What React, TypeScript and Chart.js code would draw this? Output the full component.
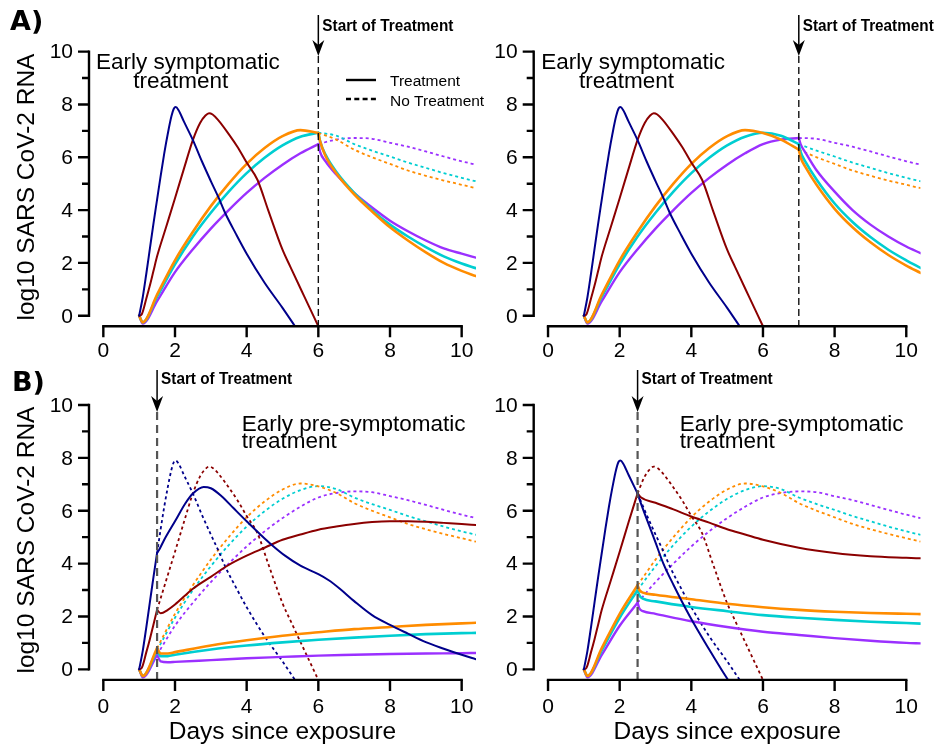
import React, { useEffect, useRef } from "react";
import { Chart, registerables } from "chart.js";

Chart.register(...registerables);

const W = 938;
const H = 748;

// ---- axis ticks -------------------------------------------------------
const yTickValues = [0, 1, 2, 3, 4, 5, 6, 7, 8, 9, 10];
const yTickLabels = ["0", "", "2", "", "4", "", "6", "", "8", "", "10"];
const xTickValues = [0, 2, 4, 6, 8, 10];
const xTickLabels = ["0", "2", "4", "6", "8", "10"];

// ---- untreated viral load (log10 RNA) per patient profile -----------------
const navyDays = [1.0, 1.1, 1.2, 1.3, 1.4, 1.5, 1.6, 1.7, 1.8, 1.9, 1.97, 2.02, 2.1, 2.25, 2.5, 2.75, 3.0, 3.22, 3.4, 3.7, 4.0, 4.5, 5.0, 5.35];
const navyLoad = [0, 0.7, 1.6, 2.55, 3.5, 4.4, 5.3, 6.15, 6.9, 7.55, 7.85, 7.9, 7.78, 7.35, 6.65, 5.85, 5.1, 4.46, 3.89, 3.1, 2.35, 1.25, 0.3, -0.4];

const redDays = [1.0, 1.07, 1.2, 1.3, 1.4, 1.5, 1.75, 2.0, 2.25, 2.5, 2.7, 2.85, 2.95, 3.05, 3.2, 3.5, 3.75, 4.0, 4.3, 4.6, 5.0, 5.22, 5.6, 6.0];
const redLoad = [0, 0.05, 0.65, 1.15, 1.7, 2.25, 3.35, 4.45, 5.57, 6.66, 7.3, 7.58, 7.67, 7.62, 7.42, 6.88, 6.38, 5.8, 5.15, 4.0, 2.5, 1.85, 0.75, -0.4];

const slowDays = [1.0, 1.1, 1.5, 2.0, 2.5, 3.0, 3.5, 4.0, 4.5, 5.0, 5.5, 6.0, 6.5, 7.0, 7.5, 8.0, 8.5, 9.0, 9.5, 10.0, 10.4];
const orangeLoad = [0, -0.25, 0.8, 2.1, 3.18, 4.15, 5.0, 5.75, 6.35, 6.8, 7.03, 6.92, 6.67, 6.29, 6.0, 5.75, 5.5, 5.3, 5.12, 4.96, 4.83];
const cyanLoad = [0, -0.25, 0.72, 1.95, 3.0, 3.9, 4.7, 5.4, 5.98, 6.45, 6.78, 6.93, 6.82, 6.5, 6.25, 6.03, 5.8, 5.6, 5.4, 5.22, 5.09];
const purpleLoad = [0, -0.3, 0.55, 1.65, 2.52, 3.3, 4.0, 4.65, 5.22, 5.72, 6.15, 6.5, 6.67, 6.73, 6.7, 6.55, 6.4, 6.22, 6.03, 5.85, 5.72];

// ---- treated viral load, from the start of treatment onward -------------------
// A) early symptomatic, treatment on day 6
const sym6Days = [6.0, 6.05, 6.2, 6.5, 7.0, 7.5, 8.0, 8.5, 9.0, 9.5, 10.0, 10.4];
const sym6Orange = [6.92, 6.6, 6.05, 5.4, 4.6, 3.95, 3.35, 2.85, 2.4, 2.0, 1.7, 1.5];
const sym6Cyan = [6.93, 6.6, 6.1, 5.45, 4.65, 4.0, 3.45, 3.0, 2.6, 2.25, 1.98, 1.8];
const sym6Purple = [6.5, 6.2, 5.85, 5.35, 4.65, 4.1, 3.6, 3.2, 2.85, 2.55, 2.35, 2.2];

// A) early symptomatic, treatment on day 7
const sym7Days = [7.0, 7.05, 7.2, 7.5, 8.0, 8.5, 9.0, 9.5, 10.0, 10.4];
const sym7Orange = [6.29, 6.0, 5.6, 4.95, 4.05, 3.35, 2.78, 2.3, 1.9, 1.62];
const sym7Cyan = [6.5, 6.2, 5.8, 5.15, 4.25, 3.55, 2.98, 2.5, 2.1, 1.81];
const sym7Purple = [6.73, 6.5, 6.15, 5.5, 4.7, 4.0, 3.45, 3.0, 2.62, 2.37];

// B) early pre-symptomatic, treatment on day 1.5
const pre15NavyDays = [1.5, 1.55, 1.7, 2.0, 2.3, 2.5, 2.8, 3.0, 3.3, 3.63, 4.0, 4.5, 4.75, 5.07, 5.5, 6.0, 6.28, 6.6, 7.0, 7.5, 8.0, 8.5, 9.0, 9.5, 10.0, 10.4];
const pre15Navy = [4.4, 4.5, 4.9, 5.6, 6.3, 6.65, 6.9, 6.85, 6.55, 6.1, 5.6, 4.95, 4.65, 4.3, 3.92, 3.6, 3.38, 3.05, 2.58, 2.05, 1.68, 1.35, 1.03, 0.78, 0.55, 0.38];
const pre15RedDays = [1.5, 1.6, 1.8, 2.0, 2.5, 3.0, 3.5, 4.0, 4.5, 5.0, 5.5, 6.0, 6.5, 7.0, 7.5, 8.0, 8.5, 9.0, 9.5, 10.0, 10.4];
const pre15Red = [2.25, 2.12, 2.25, 2.45, 3.05, 3.5, 3.95, 4.3, 4.6, 4.9, 5.1, 5.28, 5.4, 5.5, 5.57, 5.6, 5.6, 5.58, 5.54, 5.5, 5.46];
const pre15SlowDays = [1.5, 1.6, 1.8, 2.0, 3.0, 4.0, 5.0, 6.0, 7.0, 8.0, 9.0, 10.0, 10.4];
const pre15Orange = [0.8, 0.6, 0.6, 0.65, 0.9, 1.1, 1.27, 1.4, 1.52, 1.6, 1.68, 1.74, 1.76];
const pre15Cyan = [0.72, 0.5, 0.5, 0.55, 0.75, 0.9, 1.02, 1.12, 1.2, 1.27, 1.33, 1.37, 1.38];
const pre15Purple = [0.55, 0.3, 0.27, 0.28, 0.35, 0.42, 0.47, 0.52, 0.55, 0.58, 0.6, 0.61, 0.62];

// B) early pre-symptomatic, treatment on day 2.5
const pre25NavyDays = [2.5, 2.6, 2.75, 3.0, 3.22, 3.5, 3.96, 4.5, 5.0, 5.05];
const pre25Navy = [6.65, 6.25, 5.7, 4.8, 4.0, 3.2, 2.0, 0.75, -0.35, -0.45];
const pre25RedDays = [2.5, 2.6, 3.0, 3.5, 4.0, 4.5, 5.0, 5.5, 6.0, 7.0, 8.0, 9.0, 10.0, 10.4];
const pre25Red = [6.66, 6.5, 6.3, 6.05, 5.78, 5.55, 5.3, 5.1, 4.9, 4.6, 4.4, 4.28, 4.22, 4.2];
const pre25SlowDays = [2.5, 2.55, 2.65, 3.0, 4.0, 5.0, 6.0, 7.0, 8.0, 9.0, 10.0, 10.4];
const pre25Orange = [3.18, 3.0, 2.9, 2.82, 2.65, 2.48, 2.35, 2.25, 2.18, 2.13, 2.1, 2.09];
const pre25Cyan = [3.0, 2.8, 2.67, 2.57, 2.36, 2.2, 2.05, 1.95, 1.87, 1.8, 1.75, 1.73];
const pre25Purple = [2.52, 2.3, 2.2, 2.1, 1.82, 1.6, 1.42, 1.3, 1.18, 1.08, 1.0, 0.98];

// ---- styling -------------------------------------------------------------
type Key = "navy" | "red" | "orange" | "cyan" | "purple";
const KEYS: Key[] = ["navy", "red", "orange", "cyan", "purple"];
const COLORS: Record<Key, string> = {
  navy: "#00008B",
  red: "#8B0000",
  orange: "#FF8C00",
  cyan: "#00CED1",
  purple: "#9B30FF",
};
const WIDTHS: Record<Key, number> = { navy: 2, red: 2, orange: 2.6, cyan: 2.6, purple: 2.4 };
const FONT = "'Liberation Sans', Arial, Helvetica, sans-serif";

type Series = { days: number[]; load: number[] };
const baseline: Record<Key, Series> = {
  navy: { days: navyDays, load: navyLoad },
  red: { days: redDays, load: redLoad },
  orange: { days: slowDays, load: orangeLoad },
  cyan: { days: slowDays, load: cyanLoad },
  purple: { days: slowDays, load: purpleLoad },
};

type PanelSpec = {
  id: string;
  start: number;
  treated: Partial<Record<Key, Series>>;
  pad: { left: number; top: number; right: number; bottom: number };
  heading: { text: string; x: number; y: number }[];
  letter?: { text: string; x: number; y: number };
  legend: boolean;
  yTitle?: { x: number; y: number };
  xTitle: boolean;
  arrowTop: number;
  arrowTip: number;
  markerBaseline: number;
  lower: boolean;
  xLabelGap: number;
};

const panels: PanelSpec[] = [
  {
    id: "a-left",
    start: 6,
    treated: {
      orange: { days: sym6Days, load: sym6Orange },
      cyan: { days: sym6Days, load: sym6Cyan },
      purple: { days: sym6Days, load: sym6Purple },
    },
    pad: { left: 89, top: 41.1, right: 462, bottom: 421.7 },
    heading: [
      { text: "Early symptomatic", x: 96, y: 68.5 },
      { text: "treatment", x: 133.3, y: 87.5 },
    ],
    letter: { text: "A)", x: 10, y: 30 },
    legend: true,
    yTitle: { x: 33.5, y: 187 },
    xTitle: false,
    arrowTop: 15,
    arrowTip: 56,
    markerBaseline: 30.7,
    lower: false,
    xLabelGap: 24.5,
  },
  {
    id: "a-right",
    start: 7,
    treated: {
      orange: { days: sym7Days, load: sym7Orange },
      cyan: { days: sym7Days, load: sym7Cyan },
      purple: { days: sym7Days, load: sym7Purple },
    },
    pad: { left: 533.7, top: 41.1, right: 17.4, bottom: 421.7 },
    heading: [
      { text: "Early symptomatic", x: 541.3, y: 68.5 },
      { text: "treatment", x: 579, y: 87.5 },
    ],
    legend: false,
    xTitle: false,
    arrowTop: 15,
    arrowTip: 56,
    markerBaseline: 30.7,
    lower: false,
    xLabelGap: 24.5,
  },
  {
    id: "b-left",
    start: 1.5,
    treated: {
      navy: { days: pre15NavyDays, load: pre15Navy },
      red: { days: pre15RedDays, load: pre15Red },
      orange: { days: pre15SlowDays, load: pre15Orange },
      cyan: { days: pre15SlowDays, load: pre15Cyan },
      purple: { days: pre15SlowDays, load: pre15Purple },
    },
    pad: { left: 89, top: 394.4, right: 462, bottom: 68.1 },
    heading: [
      { text: "Early pre-symptomatic", x: 241.7, y: 431 },
      { text: "treatment", x: 241.7, y: 447.5 },
    ],
    letter: { text: "B)", x: 12, y: 391 },
    legend: false,
    yTitle: { x: 33.5, y: 540 },
    xTitle: true,
    arrowTop: 370,
    arrowTip: 412,
    markerBaseline: 384.3,
    lower: true,
    xLabelGap: 27,
  },
  {
    id: "b-right",
    start: 2.5,
    treated: {
      navy: { days: pre25NavyDays, load: pre25Navy },
      red: { days: pre25RedDays, load: pre25Red },
      orange: { days: pre25SlowDays, load: pre25Orange },
      cyan: { days: pre25SlowDays, load: pre25Cyan },
      purple: { days: pre25SlowDays, load: pre25Purple },
    },
    pad: { left: 533.7, top: 394.4, right: 17.4, bottom: 68.1 },
    heading: [
      { text: "Early pre-symptomatic", x: 679.7, y: 431 },
      { text: "treatment", x: 679.7, y: 447.5 },
    ],
    legend: false,
    xTitle: true,
    arrowTop: 370,
    arrowTip: 412,
    markerBaseline: 384.3,
    lower: true,
    xLabelGap: 27,
  },
];

const toPoints = (s: Series) => s.days.map((d, i) => ({ x: d, y: s.load[i] }));

function buildDatasets(p: PanelSpec) {
  const out: any[] = [];
  const solid = (key: Key, data: { x: number; y: number }[]) => ({
    data,
    borderColor: COLORS[key],
    borderWidth: WIDTHS[key],
    borderCapStyle: "round",
    borderJoinStyle: "round",
    pointRadius: 0,
    fill: false,
    order: 1,
  });
  const dotted = (key: Key, data: { x: number; y: number }[]) => ({
    data,
    borderColor: COLORS[key],
    borderWidth: 1.8,
    borderDash: [3, 3],
    borderCapStyle: "butt",
    pointRadius: 0,
    fill: false,
    order: 2,
  });
  for (const key of KEYS) {
    const base = toPoints(baseline[key]);
    const tr = p.treated[key];
    if (!tr) {
      out.push(solid(key, base));
      continue;
    }
    out.push(dotted(key, base.filter((q) => q.x >= p.start)));
    out.push(solid(key, base.filter((q) => q.x <= p.start)));
    out.push(solid(key, toPoints(tr)));
  }
  return out;
}

// Draws the detached base-graphics style axes, annotations and legend.
const panelInk = {
  id: "panelInk",
  afterDatasetsDraw(chart: any, _args: any, o: any) {
    const spec: PanelSpec = o.spec;
    const { ctx, chartArea: ca } = chart;
    const xs = chart.scales.x;
    const ys = chart.scales.y;
    ctx.save();
    ctx.setLineDash([]);
    ctx.fillStyle = "#000";
    ctx.strokeStyle = "#000";

    // treatment marker: dashed guide, arrow and label
    const tx = xs.getPixelForValue(spec.start);
    ctx.beginPath();
    ctx.setLineDash(spec.lower ? [8, 5] : [7, 4]);
    ctx.lineWidth = spec.lower ? 2.2 : 1.4;
    ctx.strokeStyle = spec.lower ? "#555" : "#111";
    ctx.moveTo(tx, spec.arrowTip);
    ctx.lineTo(tx, ca.bottom);
    ctx.stroke();
    ctx.setLineDash([]);
    ctx.strokeStyle = "#000";
    ctx.lineWidth = 1.5;
    ctx.beginPath();
    ctx.moveTo(tx, spec.arrowTop);
    ctx.lineTo(tx, spec.arrowTip - 6);
    ctx.stroke();
    ctx.beginPath();
    ctx.moveTo(tx, spec.arrowTip);
    ctx.lineTo(tx - 6, spec.arrowTip - 16);
    ctx.lineTo(tx, spec.arrowTip - 11);
    ctx.lineTo(tx + 6, spec.arrowTip - 16);
    ctx.closePath();
    ctx.fill();
    ctx.font = `bold 17px ${FONT}`;
    ctx.textAlign = "left";
    ctx.textBaseline = "alphabetic";
    ctx.fillText("Start of Treatment", tx + 4, spec.markerBaseline, 131);

    // axes
    ctx.lineWidth = 2.4;
    ctx.lineCap = "square";
    const ax = ca.left;
    const ay = ca.bottom;
    ctx.beginPath();
    ctx.moveTo(ax, ys.getPixelForValue(yTickValues[0]));
    ctx.lineTo(ax, ys.getPixelForValue(yTickValues[yTickValues.length - 1]));
    ctx.moveTo(xs.getPixelForValue(xTickValues[0]), ay);
    ctx.lineTo(xs.getPixelForValue(xTickValues[xTickValues.length - 1]), ay);
    ctx.stroke();
    ctx.lineCap = "butt";
    ctx.beginPath();
    yTickValues.forEach((v, i) => {
      const py = ys.getPixelForValue(v);
      const len = yTickLabels[i] ? 11 : 7;
      ctx.moveTo(ax, py);
      ctx.lineTo(ax - len, py);
    });
    xTickValues.forEach((v) => {
      const px = xs.getPixelForValue(v);
      ctx.moveTo(px, ay);
      ctx.lineTo(px, ay + 11);
    });
    ctx.stroke();

    ctx.font = `21px ${FONT}`;
    ctx.textAlign = "right";
    ctx.textBaseline = "middle";
    yTickValues.forEach((v, i) => {
      if (yTickLabels[i]) ctx.fillText(yTickLabels[i], ax - 16, ys.getPixelForValue(v) + 1);
    });
    ctx.textAlign = "center";
    xTickValues.forEach((v, i) => {
      ctx.fillText(xTickLabels[i], xs.getPixelForValue(v), ay + spec.xLabelGap);
    });

    // axis titles
    ctx.font = `24.5px ${FONT}`;
    ctx.textBaseline = "alphabetic";
    if (spec.xTitle) {
      ctx.textAlign = "center";
      ctx.fillText("Days since exposure", (ca.left + ca.right) / 2, 738.5);
    }
    if (spec.yTitle) {
      ctx.save();
      ctx.translate(spec.yTitle.x, spec.yTitle.y);
      ctx.rotate(-Math.PI / 2);
      ctx.textAlign = "center";
      ctx.fillText("log10 SARS CoV-2 RNA", 0, 0);
      ctx.restore();
    }

    // panel heading
    ctx.font = `22.5px ${FONT}`;
    ctx.textAlign = "left";
    spec.heading.forEach((h) => ctx.fillText(h.text, h.x, h.y));

    // panel letter
    if (spec.letter) {
      ctx.font = "bold 27px 'DejaVu Sans', sans-serif";
      ctx.fillText(spec.letter.text, spec.letter.x, spec.letter.y);
    }

    // line-type legend
    if (spec.legend) {
      ctx.lineWidth = 2.4;
      ctx.beginPath();
      ctx.moveTo(346, 80);
      ctx.lineTo(376, 80);
      ctx.stroke();
      ctx.setLineDash([5, 3.3]);
      ctx.beginPath();
      ctx.moveTo(346, 99);
      ctx.lineTo(376, 99);
      ctx.stroke();
      ctx.setLineDash([]);
      ctx.font = `15.5px ${FONT}`;
      ctx.fillText("Treatment", 390, 86);
      ctx.fillText("No Treatment", 390, 105.5);
    }
    ctx.restore();
  },
};

function Panel({ spec }: { spec: PanelSpec }) {
  const ref = useRef<HTMLCanvasElement | null>(null);
  useEffect(() => {
    if (!ref.current) return;
    const chart = new Chart(ref.current, {
      type: "line",
      data: { datasets: buildDatasets(spec) },
      options: {
        responsive: false,
        animation: false,
        events: [],
        layout: { padding: spec.pad },
        elements: { line: { cubicInterpolationMode: "monotone" }, point: { radius: 0 } },
        scales: {
          x: { type: "linear", min: -0.4, max: 10.4, display: false },
          y: { type: "linear", min: -0.4, max: 10.4, display: false },
        },
        plugins: {
          legend: { display: false },
          tooltip: { enabled: false },
          panelInk: { spec },
        } as any,
      },
      plugins: [panelInk],
    } as any);
    return () => chart.destroy();
  }, [spec]);
  return (
    <canvas
      ref={ref}
      width={W}
      height={H}
      style={{ position: "absolute", left: 0, top: 0, width: W, height: H }}
    />
  );
}

export default function App() {
  return (
    <div
      style={{
        position: "absolute",
        left: 0,
        top: 0,
        width: W,
        height: H,
        background: "#fff",
        overflow: "hidden",
      }}
    >
      {panels.map((p) => (
        <Panel key={p.id} spec={p} />
      ))}
    </div>
  );
}
